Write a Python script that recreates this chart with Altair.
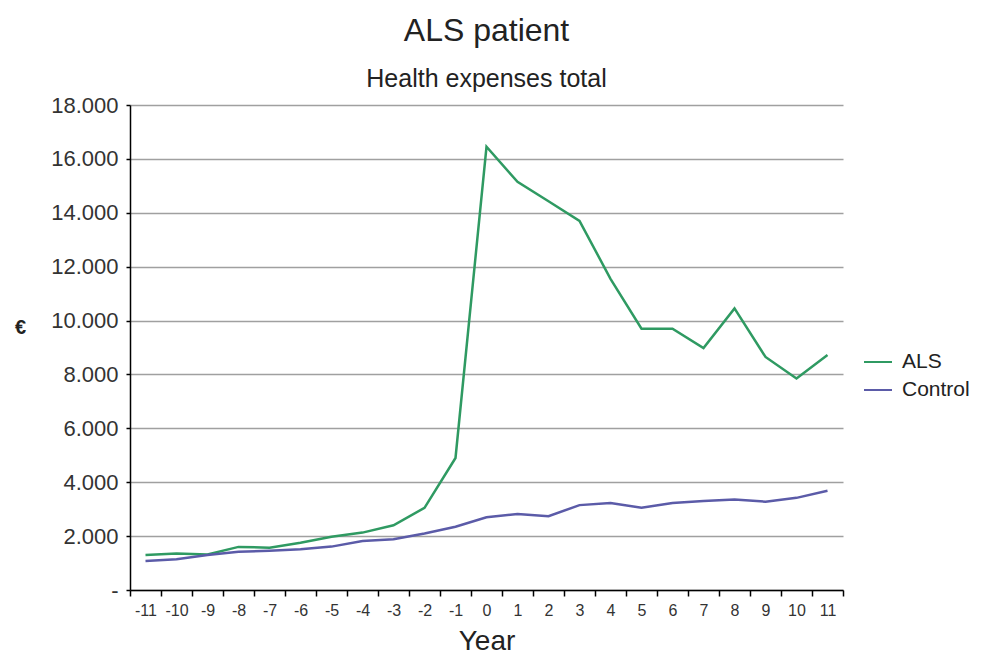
import altair as alt
import pandas as pd

years = list(range(-11, 12))
als = [1300, 1350, 1320, 1600, 1570, 1750, 1980, 2130, 2400, 3050, 4900,
       16450, 15150, 14430, 13700, 11550, 9700, 9700, 8980, 10450, 8650, 7850, 8720]
control = [1080, 1140, 1300, 1420, 1460, 1510, 1610, 1820, 1880, 2100, 2350,
           2700, 2820, 2740, 3150, 3230, 3050, 3230, 3300, 3360, 3280, 3420, 3680]
series = ["ALS", "Control"]
colors = ["#2f9a62", "#5b5ba8"]
y_ticks = list(range(0, 18001, 2000))

df = pd.DataFrame({
    "Year": years * 2,
    "value": als + control,
    "series": ["ALS"] * len(years) + ["Control"] * len(years),
})

FONT = "Liberation Sans"

chart = alt.Chart(df).mark_line(strokeWidth=2.5).encode(
    x=alt.X("Year:O", bandPosition=0.5,
            scale=alt.Scale(type="band", paddingInner=0, paddingOuter=0),
            axis=alt.Axis(title="Year", tickBand="extent", labelAngle=0,
                          labelFontSize=16, labelColor="#333", labelPadding=6,
                          tickSize=6, tickColor="#000", domainColor="#000",
                          tickWidth=1.5, domainWidth=1.5,
                          titleFontSize=28, titleFontWeight="normal",
                          titleColor="#222", titlePadding=9, grid=False)),
    y=alt.Y("value:Q", scale=alt.Scale(domain=[0, 18000], nice=False),
            axis=alt.Axis(title="€", values=y_ticks,
                          labelExpr="datum.value == 0 ? '-' : replace(format(datum.value, ',d'), ',', '.')",
                          labelFontSize=22, labelColor="#333", labelPadding=8,
                          tickSize=4, tickColor="#000", domainColor="#000",
                          tickWidth=1.5, domainWidth=1.5,
                          grid=True, gridColor="#a0a0a0", gridWidth=1.5,
                          titleAngle=0, titleFontSize=20, titleFontWeight="bold",
                          titleColor="#222", titleX=-110, titleY=222,
                          titleAlign="center", titleBaseline="middle")),
    color=alt.Color("series:N", scale=alt.Scale(domain=series, range=colors),
                    legend=alt.Legend(title=None, orient="none", legendX=733, legendY=242,
                                      symbolType="stroke", symbolSize=784,
                                      symbolStrokeWidth=2, labelFontSize=21,
                                      labelColor="#222", labelOffset=9,
                                      rowPadding=3)),
).properties(
    width=713,
    height=485,
    padding={"left": 122, "top": 97, "right": 129, "bottom": 64},
    autosize=alt.AutoSizeParams(type="none"),
    title=alt.TitleParams(text="ALS patient", subtitle="Health expenses total",
                          fontSize=32, fontWeight="normal", color="#222",
                          subtitleFontSize=25, subtitleColor="#222",
                          subtitlePadding=19, offset=1, anchor="middle"),
).configure(font=FONT).configure_view(stroke=None)

chart.save("out.html", embed_options={"renderer": "svg", "actions": False})
